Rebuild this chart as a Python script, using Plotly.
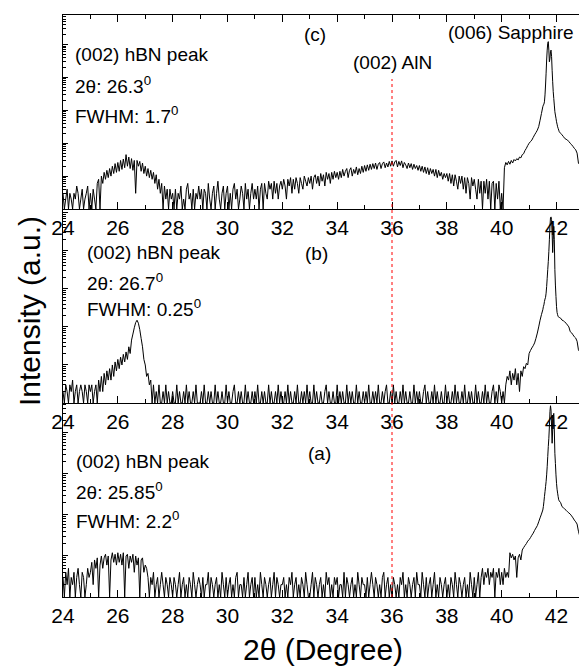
import numpy as np
import plotly.graph_objects as go
from plotly.subplots import make_subplots

# ---------------- data ----------------
# 2-theta sampling grid (degrees): 0.05 deg steps, finer 0.02 deg steps across the sapphire peak
TWO_THETA = np.round(np.concatenate([
    np.arange(480, 830) * 0.05,      # 24.00 .. 41.45
    np.arange(2075, 2105) * 0.02,    # 41.50 .. 42.08
    np.arange(842, 858) * 0.05,      # 42.10 .. 42.85
]), 3)

# (c) intensity, counts
C_MAIN = [
    3,1,2,4,1,3,2,1,3,2,5,3,1,2,4,1,2,3,5,1,            # 24
    3,1,4,2,1,6,8,1,10,6,13,8,15,9,17,10,20,12,24,13,   # 25
    26,14,30,16,33,18,45,20,38,17,34,15,30,3,30,20,28,14,25,12,  # 26
    20,10,17,9,15,8,13,6,11,4,8,3,6,1,5,2,4,1,4,2,      # 27
    3,1,4,1,3,2,5,1,2,1,4,6,2,3,1,4,1,3,2,5,            # 28
    2,4,1,4,3,1,6,2,1,3,5,1,3,7,2,1,3,5,1,3,            # 29
    5,1,3,1,4,6,2,4,1,2,5,3,1,6,2,4,1,3,6,2,            # 30
    4,2,5,1,4,6,1,6,3,2,7,4,6,2,7,3,6,2,5,7,            # 31
    4,8,5,2,8,5,9,3,8,4,9,6,3,9,6,4,10,7,5,9,           # 32
    6,10,4,9,11,6,10,5,12,7,11,5,13,8,12,6,13,8,14,9,   # 33
    13,8,14,9,16,10,14,17,9,15,18,10,16,12,19,11,17,12,20,13,  # 34
    21,14,22,15,23,16,24,17,25,16,23,26,17,24,27,18,25,19,28,20,  # 35
    29,20,27,30,19,28,21,29,18,26,22,17,25,18,24,16,23,17,21,15,  # 36
    21,14,20,13,19,12,18,11,17,12,16,10,16,9,15,10,13,8,12,9,     # 37
    12,7,12,6,11,5,11,7,4,10,6,10,4,9,3,9,6,2,9,5,      # 38
    8,4,2,8,3,7,1,7,3,8,2,7,1,6,7,1,6,2,7,1,            # 39
    3,1,18,26,22,28,23,30,25,32,29,34,31,38,36,45,48,60,70,85,  # 40
    100,112,125,150,180,210,250,320,500,800,            # 41.00-41.45
]
C_PEAK = [1290,1450,1550,1820,2950,5900,13500,34000,68000,110000,
          123000,68000,30000,38000,60000,68000,43000,16600,7400,3700,
          2300,1450,910,720,575,450,380,316,282,251]
C_TAIL = [224,200,180,160,140,132,125,112,100,90,80,70,63,50,25,22]

# (b)
B_MAIN = [
    2,1,3,2,1,3,2,4,1,2,3,1,2,3,2,1,3,2,1,3,            # 24
    2,3,1,2,3,1,4,2,5,2,6,3,7,4,8,4,10,5,12,7,          # 25
    14,8,16,10,19,12,22,14,30,20,45,65,95,130,150,125,85,50,30,14,  # 26
    10,5,6,3,4,1,3,1,2,1,3,1,1,2,1,3,1,2,1,1,           # 27
    2,1,1,3,1,2,1,1,2,1,3,1,2,1,1,2,1,3,1,1,            # 28
    1,2,1,3,1,1,2,1,2,1,1,3,1,2,1,1,2,1,1,3,            # 29
    1,2,1,1,2,3,1,1,2,1,2,1,1,3,1,2,1,1,2,1,            # 30
    2,1,3,1,1,2,1,2,1,1,3,1,2,1,1,2,1,3,1,2,            # 31
    1,1,2,1,3,1,2,1,1,2,1,3,1,1,2,1,2,1,3,1,            # 32
    2,1,1,3,1,2,1,1,2,1,1,2,3,1,2,1,1,2,1,1,            # 33
    3,1,2,1,2,1,1,3,1,2,1,2,1,1,3,1,2,1,1,2,            # 34
    1,2,1,3,1,1,2,1,2,1,3,1,1,2,1,2,3,1,1,2,            # 35
    1,3,1,2,1,1,2,1,3,1,2,1,1,2,1,1,3,1,2,1,            # 36
    2,1,1,2,3,1,2,1,1,2,1,3,1,2,1,1,2,1,1,3,            # 37
    1,2,1,1,2,1,3,1,2,1,1,2,1,3,1,1,2,1,2,1,            # 38
    1,3,1,2,1,1,2,1,3,1,2,1,1,2,3,1,2,1,3,2,            # 39
    1,2,1,3,5,4,7,3,6,4,8,3,6,2,7,5,9,8,11,10,          # 40
    20,24,28,32,38,50,69,100,150,210,                   # 41.00-41.45
]
B_PEAK = [282,340,380,465,540,600,770,1150,1900,3200,
          5200,9500,19500,44000,74000,78000,66000,30000,9000,19500,
          44000,19500,3200,1260,630,340,240,209,186,182]
B_TAIL = [178,170,151,145,135,125,112,100,75,70,62,55,51,42,25,22]

# (a)
A_MAIN = [
    3,1,4,2,5,1,3,2,4,1,3,5,2,1,4,3,1,2,5,3,            # 24
    4,7,2,8,5,9,1,6,10,5,9,11,6,10,1,8,12,7,11,6,       # 25
    12,7,11,6,12,1,10,11,5,10,7,11,4,10,6,9,1,8,9,4,    # 26
    6,5,3,1,3,2,4,1,2,3,1,2,4,2,1,3,2,1,3,2,            # 27
    1,3,2,1,2,4,1,2,3,1,2,1,3,2,1,4,2,1,2,3,            # 28
    2,1,3,1,2,2,4,1,3,2,1,2,3,1,2,1,4,2,1,3,            # 29
    1,2,3,1,2,1,3,4,1,2,2,1,3,1,2,4,1,2,3,1,            # 30
    3,1,2,1,4,2,1,3,2,1,2,3,1,2,4,1,3,2,1,2,            # 31
    2,3,1,2,1,3,2,4,1,2,3,1,2,1,3,2,1,4,2,1,            # 32
    1,2,4,1,3,2,1,2,3,1,2,1,4,2,3,1,2,1,3,2,            # 33
    3,1,2,2,1,4,1,3,2,1,2,3,1,2,1,4,2,1,3,2,            # 34
    2,1,3,1,2,4,2,1,3,2,1,2,1,3,4,1,2,3,1,2,            # 35
    1,3,2,1,2,1,3,2,4,1,2,1,3,2,1,2,3,1,4,2,            # 36
    2,1,4,2,1,3,1,2,3,1,2,4,1,2,1,3,2,1,2,3,            # 37
    1,2,1,3,2,1,4,2,1,3,2,1,2,3,1,2,1,4,2,1,            # 38
    3,1,2,4,1,3,5,2,4,3,5,2,4,3,5,1,4,3,5,2,            # 39
    4,2,5,3,4,3,12,9,11,8,10,3,9,11,8,14,16,18,20,23,   # 40
    25,28,32,36,42,48,55,68,85,105,                     # 41.00-41.45
]
A_PEAK = [132,160,210,280,370,490,650,950,1500,2650,
          4650,7400,14000,33000,46000,36000,14000,5600,11800,25000,
          30000,11800,3200,1800,950,590,425,340,280,234]
A_TAIL = [220,200,160,150,140,130,120,112,105,95,85,75,68,60,40,30]

PANELS = [  # top to bottom
    ("c", C_MAIN + C_PEAK + C_TAIL, 5.9, "26.3", "1.7"),
    ("b", B_MAIN + B_PEAK + B_TAIL, 5.1, "26.7", "0.25"),
    ("a", A_MAIN + A_PEAK + A_TAIL, 4.73, "25.85", "2.2"),
]
X_TICKS = list(range(24, 43, 2))
ALN_POS = 36.0

# ---------------- figure ----------------
W, H = 579, 666
ML, MR, MT, MB = 63, 0, 15, 69
PW, PH = W - ML - MR, H - MT - MB
FONT = "Liberation Sans, Arial, sans-serif"


def paper(px, py):
    return (px - ML) / PW, (H - MB - py) / PH


fig = make_subplots(rows=3, cols=1, vertical_spacing=0)

major_y = [10 ** k for k in range(0, 7)]
minor_y = [m * 10 ** k for k in range(0, 7) for m in range(2, 10)]

for i, (lab, vals, ytop, pos, fwhm) in enumerate(PANELS):
    assert len(vals) == len(TWO_THETA)
    r = i + 1
    fig.add_trace(go.Scatter(x=TWO_THETA, y=vals, mode="lines",
                             line=dict(color="black", width=1, simplify=False),
                             showlegend=False, hoverinfo="skip"), row=r, col=1)
    fig.update_xaxes(row=r, col=1, range=[24, 42.82], tickvals=X_TICKS,
                     ticks="inside", ticklen=7, tickcolor="black",
                     minor=dict(dtick=1, tick0=24, ticks="inside", ticklen=4, tickcolor="black"),
                     showline=True, linecolor="black", linewidth=1,
                     mirror="ticks" if lab == "c" else False,
                     showgrid=False, zeroline=False,
                     tickfont=dict(size=21, color="black", family=FONT))
    fig.update_yaxes(row=r, col=1, type="log", range=[0, ytop],
                     tickvals=major_y, ticks="inside", ticklen=5, tickcolor="black",
                     minor=dict(tickvals=minor_y, ticks="inside", ticklen=3, tickcolor="black"),
                     showticklabels=False, showline=True, linecolor="black", linewidth=1,
                     showgrid=False, zeroline=False)

ann = []
def add_text(px, py, text, size=19, xanchor="left", angle=0):
    x, y = paper(px, py)
    ann.append(dict(x=x, y=y, xref="paper", yref="paper", text=text, showarrow=False,
                    xanchor=xanchor, yanchor="middle", textangle=angle,
                    font=dict(size=size, color="black", family=FONT)))

# text blocks per panel: (left x, y rows), label (x, y)
blocks = {"c": (73, [55, 85, 115], (315, 35)),
          "b": (85, [252, 282, 308], (316, 253)),
          "a": (74, [462, 491, 520], (319, 453))}
for lab, vals, ytop, pos, fwhm in PANELS:
    lx, ys, (qx, qy) = blocks[lab]
    add_text(lx, ys[0], "(002) hBN peak")
    add_text(lx, ys[1], "2\u03b8: " + pos + "<sup>0</sup>")
    add_text(lx, ys[2], "FWHM: " + fwhm + "<sup>0</sup>")
    add_text(qx, qy, "(" + lab + ")", xanchor="center")

add_text(392, 62, "(002) AlN", xanchor="center")
add_text(511, 32, "(006) Sapphire", xanchor="center")
add_text(323, 650, "2\u03b8 (Degree)", size=30, xanchor="center")
add_text(29, 311, "Intensity (a.u.)", size=30, xanchor="center", angle=-90)

_, y_top = paper(0, 79)
fig.add_shape(type="line", xref="x", yref="paper", x0=ALN_POS, x1=ALN_POS, y0=0, y1=y_top,
              line=dict(color="red", width=1, dash="dot"))

fig.update_layout(width=W, height=H, margin=dict(l=ML, r=MR, t=MT, b=MB),
                  paper_bgcolor="white", plot_bgcolor="white",
                  annotations=ann, font=dict(family=FONT, color="black"))

fig.write_html("out.html")
